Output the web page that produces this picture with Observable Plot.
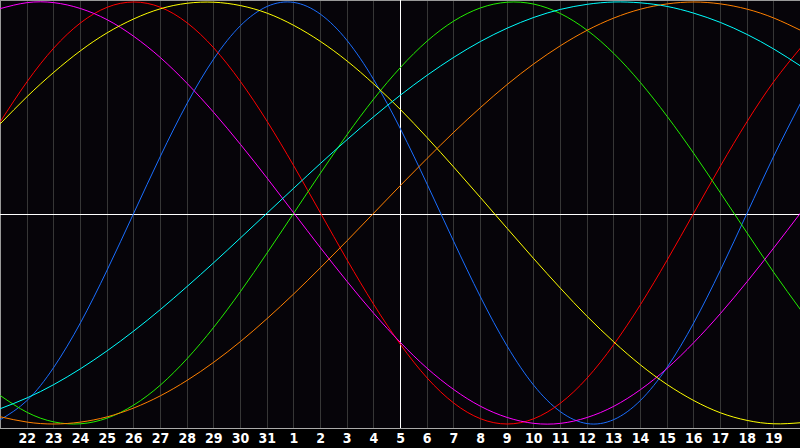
<!DOCTYPE html>
<html><head><meta charset="utf-8">
<script src="https://cdn.jsdelivr.net/npm/d3@7"></script>
<script src="https://cdn.jsdelivr.net/npm/@observablehq/plot@0.6"></script>
<style>html,body{margin:0;padding:0;background:#000;} #chart svg{display:block;}</style>
</head><body><div id="chart"></div>
<script>
// Day labels (index 0..30)
const dayLabels = ["21","22","23","24","25","26","27","28","29","30","31","1","2","3","4","5","6","7","8","9","10","11","12","13","14","15","16","17","18","19","20"];
const tickDays = [1,2,3,4,5,6,7,8,9,10,11,12,13,14,15,16,17,18,19,20,21,22,23,24,25,26,27,28,29];
const todayIndex = 15;

// Cycle values, one per day
const physical     = [-0.979,-0.888,-0.731,-0.520,-0.270,0,0.270,0.520,0.731,0.888,0.979,0.998,0.942,0.817,0.631,0.398,0.136,-0.136,-0.398,-0.631,-0.817,-0.942,-0.998,-0.979,-0.888,-0.731,-0.520,-0.270,0,0.270,0.520];
const emotional    = [0.434,0.623,0.782,0.901,0.975,1,0.975,0.901,0.782,0.623,0.434,0.223,0,-0.223,-0.434,-0.623,-0.782,-0.901,-0.975,-1,-0.975,-0.901,-0.782,-0.623,-0.434,-0.223,0,0.223,0.434,0.623,0.782];
const intellectual = [-0.866,-0.945,-0.990,-0.999,-0.972,-0.910,-0.815,-0.690,-0.541,-0.372,-0.189,0,0.189,0.372,0.541,0.690,0.815,0.910,0.972,0.999,0.990,0.945,0.866,0.756,0.618,0.458,0.282,0.095,-0.095,-0.282,-0.458];
const intuitive    = [0.969,0.997,0.997,0.969,0.916,0.837,0.736,0.614,0.476,0.325,0.165,0,-0.165,-0.325,-0.476,-0.614,-0.736,-0.837,-0.916,-0.969,-0.997,-0.997,-0.969,-0.916,-0.837,-0.736,-0.614,-0.476,-0.325,-0.165,0];
const aesthetic    = [0.424,0.552,0.667,0.769,0.854,0.920,0.968,0.994,0.999,0.983,0.947,0.889,0.813,0.720,0.611,0.490,0.357,0.217,0.073,-0.073,-0.217,-0.357,-0.490,-0.611,-0.720,-0.813,-0.889,-0.947,-0.983,-0.999,-0.994];
const awareness    = [-0.966,-0.991,-1,-0.991,-0.966,-0.924,-0.866,-0.793,-0.707,-0.609,-0.5,-0.383,-0.259,-0.131,0,0.131,0.259,0.383,0.5,0.609,0.707,0.793,0.866,0.924,0.966,0.991,1,0.991,0.966,0.924,0.866];
const spiritual    = [-0.927,-0.876,-0.813,-0.738,-0.653,-0.559,-0.457,-0.348,-0.235,-0.118,0,0.118,0.235,0.348,0.457,0.559,0.653,0.738,0.813,0.876,0.927,0.965,0.989,1.000,0.996,0.979,0.947,0.903,0.846,0.777,0.697];

const seriesNames  = ["Physical","Emotional","Intellectual","Intuitive","Aesthetic","Awareness","Spiritual"];
const seriesValues = [physical, emotional, intellectual, intuitive, aesthetic, awareness, spiritual];
const seriesColors = ["#1a6eff","#ff0000","#22ee00","#ff00ff","#ffff00","#ff8000","#00ffff"];

const rows = seriesNames.flatMap((name, s) => seriesValues[s].map((v, i) => ({name, day: i, value: v})));

const yDomain = [-1.0213, 1.0071];

const chart = Plot.plot({
  width: 800,
  height: 448,
  marginLeft: 0,
  marginRight: 0,
  marginTop: 0,
  marginBottom: 20,
  style: {background: "#000", color: "#fff", fontFamily: "'Liberation Sans Narrow','DejaVu Sans Condensed',sans-serif", fontSize: "14px", fontWeight: "bold"},
  x: {domain: [0, 30], axis: null, label: null},
  y: {domain: yDomain, axis: null},
  color: {domain: seriesNames, range: seriesColors},
  marks: [
    Plot.frame({fill: "#060409", stroke: null}),
    Plot.ruleX(tickDays.filter(d => d !== todayIndex), {stroke: "#363636", shapeRendering: "crispEdges"}),
    Plot.ruleX([0], {stroke: "#999", shapeRendering: "crispEdges"}),
    Plot.ruleY([yDomain[1]], {stroke: "#999", shapeRendering: "crispEdges"}),
    Plot.ruleY([yDomain[0]], {stroke: "#aaa", shapeRendering: "crispEdges"}),
    Plot.ruleX([todayIndex], {stroke: "#fff", shapeRendering: "crispEdges"}),
    Plot.ruleY([0], {stroke: "#fff", dy: 1.5, shapeRendering: "crispEdges"}),
    Plot.line(rows, {x: "day", y: "value", z: "name", stroke: "name", curve: "natural", strokeWidth: 1}),
    Plot.axisX({ticks: tickDays, tickFormat: d => dayLabels[d], tickSize: 0, tickPadding: 5, label: null, fill: "#fff", fontWeight: "bold", fontSize: 14})
  ]
});
document.getElementById("chart").append(chart);
</script>
</body></html>
